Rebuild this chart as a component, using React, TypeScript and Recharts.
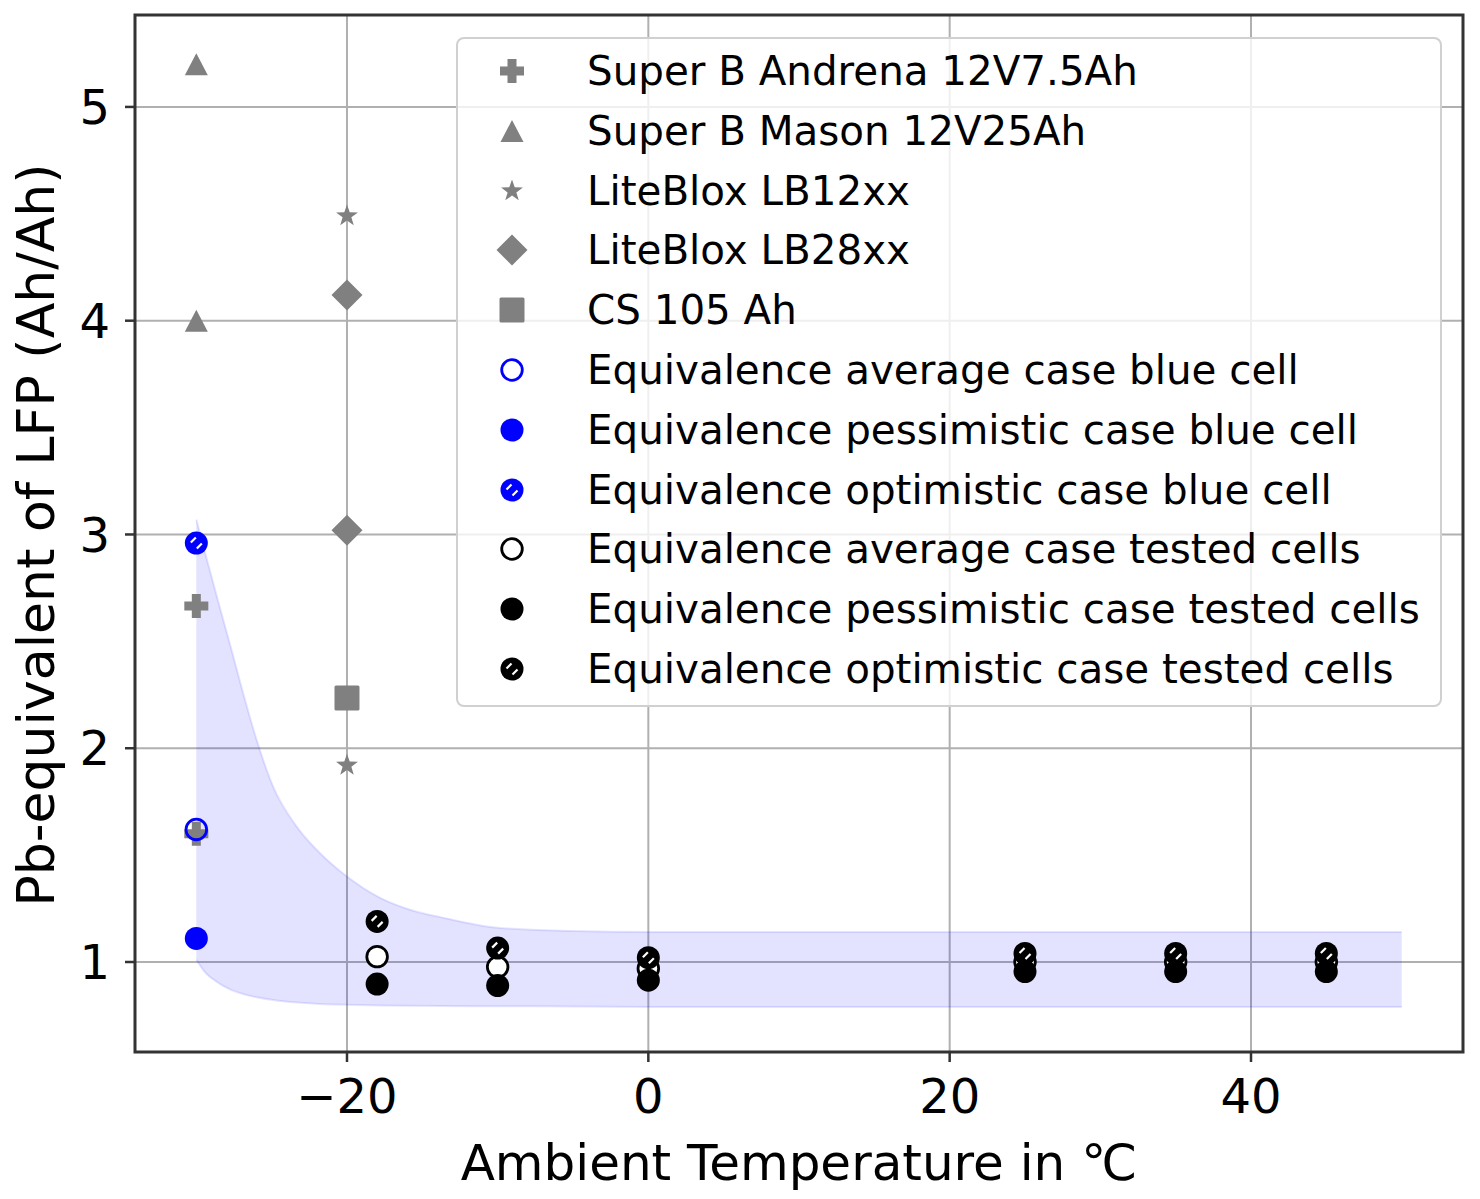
import {
  Area,
  CartesianGrid,
  ComposedChart,
  ReferenceArea,
  Scatter,
  XAxis,
  YAxis,
} from "recharts";

// Axis ranges (matplotlib auto-margins)
const X_MIN = -34.07;
const X_MAX = 54.07;
const Y_MIN = 0.579;
const Y_MAX = 5.43;
const X_TICKS = [-20, 0, 20, 40];
const Y_TICKS = [1, 2, 3, 4, 5];

// Shaded equivalence band
const BAND_X = [-30, -29.4, -28.6, -27.7, -26.9, -26, -24.9, -23.3, -21.8, -20, -17.8, -15.6, -13.8, -10, -5, 0, 10, 30, 50];
const BAND_HIGH = [3.07, 2.91, 2.7, 2.47, 2.26, 2.04, 1.82, 1.63, 1.51, 1.4, 1.3, 1.24, 1.21, 1.16, 1.145, 1.14, 1.14, 1.14, 1.14];
const BAND_LOW = [1.01, 0.95, 0.905, 0.87, 0.85, 0.835, 0.822, 0.81, 0.803, 0.8, 0.797, 0.795, 0.794, 0.793, 0.792, 0.79, 0.79, 0.79, 0.79];

// Commercial batteries
const ANDRENA = [
  { x: -30, y: 2.665 },
  { x: -30, y: 1.6 },
];
const MASON = [
  { x: -30, y: 5.2 },
  { x: -30, y: 4.0 },
];
const LB12 = [
  { x: -20, y: 4.49 },
  { x: -20, y: 1.92 },
];
const LB28 = [
  { x: -20, y: 4.12 },
  { x: -20, y: 3.02 },
];
const CS105 = [{ x: -20, y: 2.235 }];

// Blue cell
const BLUE_AVG = [{ x: -30, y: 1.62 }];
const BLUE_PESS = [{ x: -30, y: 1.11 }];
const BLUE_OPT = [{ x: -30, y: 2.96 }];

// Tested cells
const TEMPS = [-18, -10, 0, 25, 35, 45];
const TEST_AVG = [1.025, 0.977, 0.97, 1.0, 1.0, 1.0];
const TEST_PESS = [0.897, 0.89, 0.915, 0.955, 0.955, 0.955];
const TEST_OPT = [1.19, 1.065, 1.02, 1.04, 1.04, 1.04];

const GREY = "#808080";
const BLUE = "#0000ff";
const BLACK = "#000000";
const FONT = "'DejaVu Sans', Verdana, sans-serif";

const band = BAND_X.map((x, i) => ({ x, band: [BAND_LOW[i], BAND_HIGH[i]] }));
const pts = (ys: number[]) => TEMPS.map((x, i) => ({ x, y: ys[i] }));

type Kind = "plus" | "triangle" | "star" | "diamond" | "square" | "open" | "filled" | "hatched";

function Marker({ kind, cx, cy, color, fill }: { kind: Kind; cx: number; cy: number; color: string; fill?: string }) {
  switch (kind) {
    case "plus": {
      const a = 12;
      const t = 4.5;
      const p = [
        [-t, -a], [t, -a], [t, -t], [a, -t], [a, t], [t, t],
        [t, a], [-t, a], [-t, t], [-a, t], [-a, -t], [-t, -t],
      ];
      return <polygon points={p.map(([x, y]) => `${cx + x},${cy + y}`).join(" ")} fill={color} />;
    }
    case "triangle":
      return <polygon points={`${cx},${cy - 11} ${cx + 11.5},${cy + 11} ${cx - 11.5},${cy + 11}`} fill={color} />;
    case "star": {
      const p: string[] = [];
      for (let k = 0; k < 10; k++) {
        const r = k % 2 === 0 ? 11.5 : 4.6;
        const ang = -Math.PI / 2 + (k * Math.PI) / 5;
        p.push(`${cx + r * Math.cos(ang)},${cy + r * Math.sin(ang)}`);
      }
      return <polygon points={p.join(" ")} fill={color} />;
    }
    case "diamond":
      return <polygon points={`${cx},${cy - 15.5} ${cx + 15.5},${cy} ${cx},${cy + 15.5} ${cx - 15.5},${cy}`} fill={color} />;
    case "square":
      return <rect x={cx - 12.5} y={cy - 12.5} width={25} height={25} rx={1.5} fill={color} />;
    case "open":
      return <circle cx={cx} cy={cy} r={10.3} fill={fill ?? "none"} stroke={color} strokeWidth={2.8} />;
    case "filled":
      return <circle cx={cx} cy={cy} r={11.5} fill={color} />;
    case "hatched":
      return (
        <g>
          <circle cx={cx} cy={cy} r={11.5} fill={color} />
          <line x1={cx - 5.5} y1={cy - 0.5} x2={cx - 0.5} y2={cy - 5.5} stroke="#fff" strokeWidth={2.2} />
          <line x1={cx + 0.5} y1={cy + 5.5} x2={cx + 5.5} y2={cy + 0.5} stroke="#fff" strokeWidth={2.2} />
        </g>
      );
  }
}

const ENTRIES: { label: string; kind: Kind; color: string; fill?: string }[] = [
  { label: "Super B Andrena 12V7.5Ah", kind: "plus", color: GREY },
  { label: "Super B Mason 12V25Ah", kind: "triangle", color: GREY },
  { label: "LiteBlox LB12xx", kind: "star", color: GREY },
  { label: "LiteBlox LB28xx", kind: "diamond", color: GREY },
  { label: "CS 105 Ah", kind: "square", color: GREY },
  { label: "Equivalence average case blue cell", kind: "open", color: BLUE },
  { label: "Equivalence pessimistic case blue cell", kind: "filled", color: BLUE },
  { label: "Equivalence optimistic case blue cell", kind: "hatched", color: BLUE },
  { label: "Equivalence average case tested cells", kind: "open", color: BLACK, fill: "#fff" },
  { label: "Equivalence pessimistic case tested cells", kind: "filled", color: BLACK },
  { label: "Equivalence optimistic case tested cells", kind: "hatched", color: BLACK },
];

const shape = (kind: Kind, color: string, fill?: string) => (p: any) =>
  <Marker kind={kind} cx={p.cx} cy={p.cy} color={color} fill={fill} />;

const fmtX = (v: number) => (v < 0 ? `\u2212${Math.abs(v)}` : `${v}`);

function LegendBox() {
  return (
    <div
      style={{
        position: "absolute",
        left: 456,
        top: 37,
        width: 986,
        height: 670,
        boxSizing: "border-box",
        border: "2px solid #d0d0d0",
        borderRadius: 8,
        background: "rgba(255,255,255,0.8)",
        fontFamily: FONT,
        fontSize: 40.4,
        color: "#000",
      }}
    >
      {ENTRIES.map((e, i) => (
        <div key={e.label} style={{ position: "absolute", left: 0, top: 2 + i * 59.8, height: 60, width: "100%" }}>
          <svg width={40} height={40} style={{ position: "absolute", left: 34, top: 10 }}>
            <Marker kind={e.kind} cx={20} cy={20} color={e.color} fill={e.fill} />
          </svg>
          <span style={{ position: "absolute", left: 129, top: 0, lineHeight: "60px", whiteSpace: "nowrap" }}>{e.label}</span>
        </div>
      ))}
    </div>
  );
}

export default function App() {
  return (
    <div style={{ position: "absolute", left: 0, top: 0, width: 1480, height: 1199, background: "#fff", fontFamily: FONT }}>
      <ComposedChart width={1480} height={1199} data={band} margin={{ top: 15, right: 17, left: 10, bottom: 7 }}>
        <CartesianGrid stroke="#b0b0b0" strokeWidth={2} />
        <XAxis
          dataKey="x"
          type="number"
          domain={[X_MIN, X_MAX]}
          ticks={X_TICKS}
          allowDataOverflow
          height={140}
          tickFormatter={fmtX}
          tick={{ fontSize: 48, fill: "#000" }}
          tickSize={10}
          tickMargin={17}
          tickLine={{ stroke: "#333", strokeWidth: 2.5 }}
          axisLine={false}
          label={{
            content: () => (
              <text x={799} y={1180} textAnchor="middle" fontSize={50} fill="#000">
                Ambient Temperature in ℃
              </text>
            ),
          }}
        />
        <YAxis
          type="number"
          domain={[Y_MIN, Y_MAX]}
          ticks={Y_TICKS}
          allowDataOverflow
          width={125}
          tick={{ fontSize: 48, fill: "#000" }}
          tickSize={10}
          tickMargin={15}
          tickLine={{ stroke: "#333", strokeWidth: 2.5 }}
          axisLine={false}
          label={{
            content: () => (
              <text transform="translate(54,535) rotate(-90)" textAnchor="middle" fontSize={52} fill="#000">
                Pb-equivalent of LFP (Ah/Ah)
              </text>
            ),
          }}
        />
        <Area
          dataKey="band"
          type="monotone"
          fill={BLUE}
          fillOpacity={0.11}
          stroke={BLUE}
          strokeOpacity={0.1}
          strokeWidth={2}
          dot={false}
          activeDot={false}
          isAnimationActive={false}
        />
        <Scatter data={ANDRENA} dataKey="y" shape={shape("plus", GREY)} isAnimationActive={false} />
        <Scatter data={MASON} dataKey="y" shape={shape("triangle", GREY)} isAnimationActive={false} />
        <Scatter data={LB12} dataKey="y" shape={shape("star", GREY)} isAnimationActive={false} />
        <Scatter data={LB28} dataKey="y" shape={shape("diamond", GREY)} isAnimationActive={false} />
        <Scatter data={CS105} dataKey="y" shape={shape("square", GREY)} isAnimationActive={false} />
        <Scatter data={BLUE_AVG} dataKey="y" shape={shape("open", BLUE)} isAnimationActive={false} />
        <Scatter data={BLUE_PESS} dataKey="y" shape={shape("filled", BLUE)} isAnimationActive={false} />
        <Scatter data={BLUE_OPT} dataKey="y" shape={shape("hatched", BLUE)} isAnimationActive={false} />
        <Scatter data={pts(TEST_AVG)} dataKey="y" shape={shape("open", BLACK, "#fff")} isAnimationActive={false} />
        <Scatter data={pts(TEST_PESS)} dataKey="y" shape={shape("filled", BLACK)} isAnimationActive={false} />
        <Scatter data={pts(TEST_OPT)} dataKey="y" shape={shape("hatched", BLACK)} isAnimationActive={false} />
        <ReferenceArea
          x1={X_MIN}
          x2={X_MAX}
          y1={Y_MIN}
          y2={Y_MAX}
          fill="none"
          fillOpacity={0}
          stroke="#333"
          strokeWidth={3}
          ifOverflow="visible"
        />
      </ComposedChart>
      <LegendBox />
    </div>
  );
}
